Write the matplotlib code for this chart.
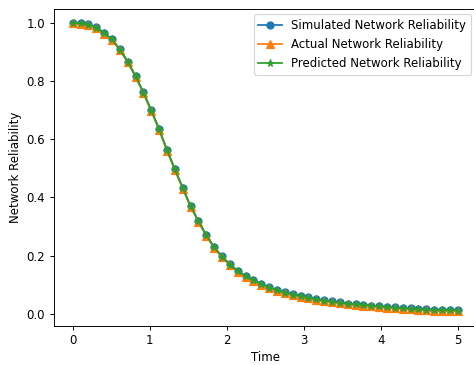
import numpy as np
import matplotlib
matplotlib.use("Agg")
import matplotlib.pyplot as plt

time = np.linspace(0, 5, 50)

simulated = [1.000, 0.999, 0.995, 0.985, 0.966, 0.944, 0.909, 0.867, 0.817, 0.761,
             0.699, 0.635, 0.563, 0.497, 0.433, 0.370, 0.319, 0.270, 0.229, 0.197,
             0.170, 0.148, 0.129, 0.116, 0.103, 0.091, 0.082, 0.073, 0.067, 0.062,
             0.056, 0.050, 0.046, 0.042, 0.039, 0.035, 0.033, 0.031, 0.028, 0.026,
             0.024, 0.022, 0.019, 0.018, 0.016, 0.015, 0.014, 0.013, 0.013, 0.012]

actual = [0.998, 0.996, 0.992, 0.982, 0.963, 0.941, 0.906, 0.864, 0.814, 0.758,
          0.696, 0.632, 0.560, 0.494, 0.430, 0.367, 0.316, 0.267, 0.226, 0.194,
          0.167, 0.145, 0.126, 0.113, 0.100, 0.088, 0.079, 0.070, 0.064, 0.059,
          0.053, 0.047, 0.043, 0.039, 0.036, 0.032, 0.030, 0.028, 0.025, 0.023,
          0.021, 0.019, 0.016, 0.015, 0.013, 0.012, 0.011, 0.010, 0.010, 0.009]

predicted = [1.000, 0.998, 0.994, 0.984, 0.965, 0.943, 0.908, 0.866, 0.816, 0.760,
             0.698, 0.634, 0.562, 0.496, 0.432, 0.369, 0.318, 0.269, 0.228, 0.196,
             0.169, 0.147, 0.128, 0.115, 0.102, 0.090, 0.081, 0.072, 0.066, 0.061,
             0.055, 0.049, 0.045, 0.041, 0.038, 0.034, 0.032, 0.030, 0.027, 0.025,
             0.023, 0.021, 0.018, 0.017, 0.015, 0.014, 0.013, 0.012, 0.012, 0.011]

W, H = 474, 365
DPI = 85
fig = plt.figure(figsize=(W / DPI, H / DPI), dpi=DPI)
l, r, t, b = 53.5, 477, 8.5, 325.5
ax = fig.add_axes([l / W, (H - b) / H, (r - l) / W, (b - t) / H])

ax.plot(time, simulated, marker='o', label='Simulated Network Reliability')
ax.plot(time, actual, marker='^', label='Actual Network Reliability')
ax.plot(time, predicted, marker='*', label='Predicted Network Reliability')

ax.set_xlabel('Time')
ax.set_ylabel('Network Reliability')
ax.legend(loc='upper right')

fig.savefig('out.png', dpi=DPI)
